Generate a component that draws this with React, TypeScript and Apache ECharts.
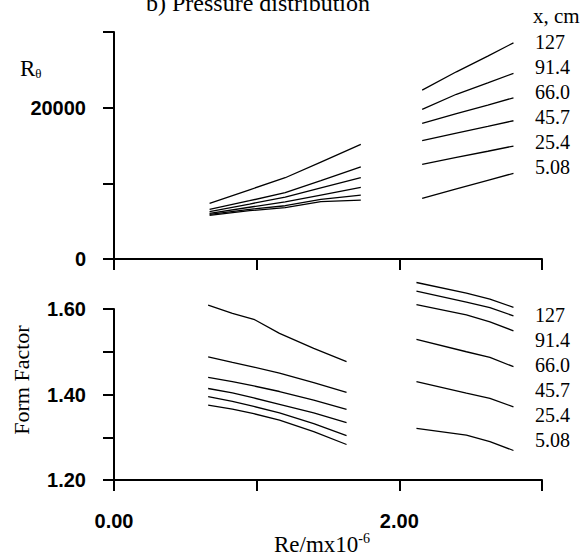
import React, { useEffect, useRef } from "react";
import * as echarts from "echarts";

// Streamwise stations, x (cm)
const LOCATIONS = ["127", "91.4", "66.0", "45.7", "25.4", "5.08"];

// Momentum-thickness Reynolds number R_theta, low unit-Re group
const RTH_X_LOW = [0.67, 0.95, 1.2, 1.45, 1.73];
const RTH_LOW = [
  [7360, 9150, 10740, 12810, 15150],
  [6560, 7700, 8760, 10370, 12190],
  [6250, 7265, 8190, 9400, 10740],
  [6040, 6840, 7550, 8450, 9470],
  [5900, 6560, 7040, 7890, 8450],
  [5770, 6380, 6780, 7570, 7790],
];
// R_theta, high unit-Re group
const RTH_X_HIGH = [2.16, 2.4, 2.62, 2.8];
const RTH_HIGH = [
  [22325, 24740, 26820, 28570],
  [19775, 21770, 23270, 24530],
  [17925, 19200, 20340, 21310],
  [15630, 16630, 17530, 18270],
  [12510, 13430, 14240, 14930],
  [8020, 9260, 10390, 11320],
];

// Form factor H, low unit-Re group
const H_X_LOW = [0.66, 0.83, 0.98, 1.16, 1.4, 1.63];
const H_LOW = [
  [1.609, 1.59, 1.576, 1.543, 1.508, 1.477],
  [1.488, 1.475, 1.464, 1.45, 1.428, 1.405],
  [1.44, 1.43, 1.42, 1.407, 1.387, 1.365],
  [1.414, 1.404, 1.392, 1.377, 1.357, 1.334],
  [1.395, 1.384, 1.372, 1.357, 1.332, 1.304],
  [1.375, 1.366, 1.355, 1.34, 1.313, 1.283],
];
// Form factor H, high unit-Re group
const H_X_HIGH = [2.12, 2.47, 2.635, 2.8];
const H_HIGH = [
  [1.662, 1.637, 1.623, 1.604],
  [1.642, 1.616, 1.603, 1.584],
  [1.61, 1.586, 1.57, 1.549],
  [1.529, 1.5, 1.487, 1.465],
  [1.43, 1.403, 1.391, 1.371],
  [1.321, 1.305, 1.29, 1.269],
];

const RTH_TICK_LABELS = [0, 20000];
const H_TICK_LABELS = [1.2, 1.4, 1.6];
const X_TICK_LABELS = [0, 2];

const SERIF = "'Liberation Serif', 'Times New Roman', serif";
const SANS = "'Liberation Sans', Arial, sans-serif";

export default function App() {
  const ref = useRef<HTMLDivElement>(null);

  useEffect(() => {
    if (!ref.current) return;
    const chart = echarts.init(ref.current, undefined, { renderer: "svg" });

    const axisLine = { show: true, lineStyle: { color: "#000", width: 2 } };
    const axisTick = { show: true, length: 11, lineStyle: { color: "#000", width: 2 } };
    const tickFont = { color: "#000", fontFamily: SANS, fontWeight: "bold" as const, fontSize: 20 };

    const mkSeries = (xs: number[], ys: number[], axisIndex: number) => ({
      type: "line",
      xAxisIndex: axisIndex,
      yAxisIndex: axisIndex,
      data: xs.map((x, i) => [x, ys[i]]),
      showSymbol: false,
      symbol: "none",
      clip: false,
      silent: true,
      lineStyle: { color: "#000", width: 1.3 },
    });

    const series: any[] = [];
    RTH_LOW.forEach((ys) => series.push(mkSeries(RTH_X_LOW, ys, 0)));
    RTH_HIGH.forEach((ys) => series.push(mkSeries(RTH_X_HIGH, ys, 0)));
    H_LOW.forEach((ys) => series.push(mkSeries(H_X_LOW, ys, 1)));
    H_HIGH.forEach((ys) => series.push(mkSeries(H_X_HIGH, ys, 1)));

    const labelText = (y0: number) =>
      LOCATIONS.map((t, i) => ({
        type: "text",
        left: 535,
        top: y0 + i * 25 - 10,
        style: { text: t, font: `20px ${SERIF}`, fill: "#000" },
      }));

    chart.setOption({
      animation: false,
      backgroundColor: "#fff",
      grid: [
        { left: 114, top: 32, width: 428, height: 227 },
        { left: 114, top: 309, width: 428, height: 171 },
      ],
      xAxis: [
        {
          type: "value",
          gridIndex: 0,
          min: 0,
          max: 3,
          interval: 1,
          axisLine,
          axisTick,
          axisLabel: { show: false },
          splitLine: { show: false },
        },
        {
          type: "value",
          gridIndex: 1,
          min: 0,
          max: 3,
          interval: 1,
          axisLine,
          axisTick,
          axisLabel: {
            ...tickFont,
            margin: 31,
            formatter: (v: number) =>
              X_TICK_LABELS.some((l) => Math.abs(l - v) < 1e-6) ? v.toFixed(2) : "",
          },
          splitLine: { show: false },
        },
      ],
      yAxis: [
        {
          type: "value",
          gridIndex: 0,
          min: 0,
          max: 30000,
          interval: 10000,
          axisLine,
          axisTick,
          axisLabel: {
            ...tickFont,
            margin: 28,
            formatter: (v: number) =>
              RTH_TICK_LABELS.some((l) => Math.abs(l - v) < 1e-6) ? String(v) : "",
          },
          splitLine: { show: false },
        },
        {
          type: "value",
          gridIndex: 1,
          min: 1.2,
          max: 1.6,
          interval: 0.1,
          axisLine,
          axisTick,
          axisLabel: {
            ...tickFont,
            margin: 28,
            formatter: (v: number) =>
              H_TICK_LABELS.some((l) => Math.abs(l - v) < 1e-6) ? v.toFixed(2) : "",
          },
          splitLine: { show: false },
        },
      ],
      series,
      graphic: [
        {
          type: "text",
          x: 258,
          y: 3,
          style: {
            text: "b) Pressure distribution",
            font: `24px ${SERIF}`,
            fill: "#000",
            align: "center",
            verticalAlign: "middle",
          },
        },
        {
          type: "text",
          x: 533,
          y: 16,
          style: {
            text: "x, cm",
            font: `21px ${SERIF}`,
            fill: "#000",
            align: "left",
            verticalAlign: "middle",
          },
        },
        {
          type: "text",
          x: 20,
          y: 68,
          style: {
            text: "{r|R}{s|θ}",
            fill: "#000",
            align: "left",
            verticalAlign: "middle",
            rich: {
              r: { fontFamily: SERIF, fontSize: 23, lineHeight: 23, fill: "#000" },
              s: { fontFamily: SERIF, fontSize: 13, lineHeight: 13, verticalAlign: "bottom", fill: "#000" },
            },
          },
        },
        {
          type: "text",
          x: 21,
          y: 380,
          rotation: Math.PI / 2,
          style: {
            text: "Form Factor",
            font: `22px ${SERIF}`,
            fill: "#000",
            align: "center",
            verticalAlign: "middle",
          },
        },
        {
          type: "text",
          x: 322,
          y: 543,
          style: {
            text: "{a|Re/mx10}{b|-6}",
            fill: "#000",
            align: "center",
            verticalAlign: "middle",
            rich: {
              a: { fontFamily: SERIF, fontSize: 23, lineHeight: 23, padding: [3, 0, 0, 0], fill: "#000" },
              b: { fontFamily: SERIF, fontSize: 14, lineHeight: 14, verticalAlign: "top", fill: "#000" },
            },
          },
        },
        ...labelText(42),
        ...labelText(315),
      ],
    });

    return () => chart.dispose();
  }, []);

  return (
    <div
      ref={ref}
      style={{ position: "absolute", left: 0, top: 0, width: 586, height: 556 }}
    />
  );
}
